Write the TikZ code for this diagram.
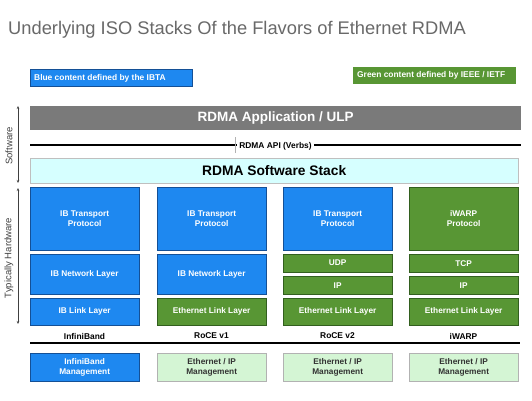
\documentclass[tikz,border=0pt]{standalone}
\usepackage{fontspec}
\setmainfont{Liberation Sans}
\usetikzlibrary{arrows.meta}
\definecolor{ibblue}{RGB}{30,136,240}
\definecolor{ibblueD}{RGB}{20,80,150}
\definecolor{ietfgreen}{RGB}{88,150,52}
\definecolor{ietfgreenD}{RGB}{50,95,30}
\definecolor{mgmtgreen}{RGB}{212,245,212}
\definecolor{appgray}{RGB}{122,122,122}
\definecolor{stackcyan}{RGB}{214,255,255}
\definecolor{titlegray}{RGB}{105,105,105}
\tikzset{
  x=1pt, y=-1pt,
  layer/.style={anchor=north west, inner sep=0pt, minimum width=109pt, align=center,
    font=\bfseries\fontsize{8.3}{9.6}\selectfont, text=white},
  bluebox/.style={layer, fill=ibblue, draw=ibblueD, line width=0.3pt},
  greenbox/.style={layer, fill=ietfgreen, draw=ietfgreenD, line width=0.3pt},
  mgmtbox/.style={layer, fill=mgmtgreen, draw=gray!60, line width=0.3pt, text=black!80},
  flavor/.style={font=\bfseries\fontsize{8.4}{9}\selectfont, text=black},
  legtext/.style={anchor=west, text=white, font=\bfseries\fontsize{8.4}{9}\selectfont, inner sep=0pt},
  sidearrow/.style={{Stealth[length=3pt,width=2.5pt]}-{Stealth[length=3pt,width=2.5pt]}, draw=black!75, line width=0.6pt},
  sidelabel/.style={rotate=90, font=\fontsize{9.5}{10}\selectfont, text=black!75},
}
\begin{document}
\begin{tikzpicture}
\useasboundingbox[fill=white] (0,0) rectangle (532,401);
% title
\node[anchor=base west, inner sep=0pt, text=titlegray, font=\fontsize{18.3}{20}\selectfont] (title) at (8,34.5) {Underlying ISO Stacks Of the Flavors of Ethernet RDMA};
% legends
\node[anchor=north west, inner sep=0pt, fill=ibblue, draw=ibblueD, line width=0.3pt, minimum width=162pt, minimum height=17pt] (legb) at (30,69) {};
\node[legtext] (legbt) at (34,78) {Blue content defined by the IBTA};
\node[anchor=north west, inner sep=0pt, fill=ietfgreen, minimum width=163pt, minimum height=17pt] (legg) at (353,67) {};
\node[legtext] (leggt) at (357,75.5) {Green content defined by IEEE / IETF};
% application bar
\node[anchor=north west, inner sep=0pt, fill=appgray, minimum width=491pt, minimum height=24pt, text=white, font=\bfseries\fontsize{13.5}{15}\selectfont] (app) at (30,106) {RDMA Application / ULP};
% API line
\coordinate (apiL) at (30,145);
\coordinate (apiR) at (521,145);
\draw[line width=1.3pt, black] (apiL) -- (apiR);
\node[fill=white, inner sep=2pt, font=\bfseries\fontsize{8.4}{9}\selectfont] (api) at (275.5,146) {RDMA API (Verbs)};
\coordinate (tickT) at (235,137);
\coordinate (tickB) at (235,153);
\draw[gray!60, line width=0.5pt] (tickT) -- (tickB);
% software stack
\node[anchor=north west, inner sep=0pt, fill=stackcyan, draw=gray!50, line width=0.4pt, minimum width=488pt, minimum height=25pt, text=black, font=\bfseries\fontsize{13.8}{15}\selectfont] (stack) at (30,158) {RDMA Software Stack};
% side arrows
\coordinate (swT) at (18,106);
\coordinate (swB) at (18,183);
\draw[sidearrow] (swT) -- (swB);
\node[sidelabel] (swl) at (9,146) {Software};
\coordinate (hwT) at (18,188);
\coordinate (hwB) at (18,324);
\draw[sidearrow] (hwT) -- (hwB);
\node[sidelabel] (hwl) at (9,258) {Typically Hardware};
% column 1: InfiniBand
\node[bluebox, minimum height=63pt] (ibt1) at (30,187) {IB Transport\\Protocol};
\node[bluebox, minimum height=40pt] (ibn1) at (30,254) {IB Network Layer};
\node[bluebox, minimum height=27pt] (ibl1) at (30,298) {IB Link Layer};
\node[flavor] (f1) at (84.5,336) {InfiniBand};
\node[bluebox, minimum height=28pt] (m1) at (30,353) {InfiniBand\\Management};
% column 2: RoCE v1
\node[bluebox, minimum height=63pt] (ibt2) at (157,187) {IB Transport\\Protocol};
\node[bluebox, minimum height=40pt] (ibn2) at (157,254) {IB Network Layer};
\node[greenbox, minimum height=27pt] (el2) at (157,298) {Ethernet Link Layer};
\node[flavor] (f2) at (211.5,336) {RoCE v1};
\node[mgmtbox, minimum height=28pt] (m2) at (157,353) {Ethernet / IP\\Management};
% column 3: RoCE v2
\node[bluebox, minimum height=63pt] (ibt3) at (283,187) {IB Transport\\Protocol};
\node[greenbox, minimum height=18pt] (udp3) at (283,254) {UDP};
\node[greenbox, minimum height=18pt] (ip3) at (283,276) {IP};
\node[greenbox, minimum height=27pt] (el3) at (283,298) {Ethernet Link Layer};
\node[flavor] (f3) at (337.5,336) {RoCE v2};
\node[mgmtbox, minimum height=28pt] (m3) at (283,353) {Ethernet / IP\\Management};
% column 4: iWARP
\node[greenbox, minimum height=63pt] (iw4) at (409,187) {iWARP\\Protocol};
\node[greenbox, minimum height=18pt] (tcp4) at (409,254) {TCP};
\node[greenbox, minimum height=18pt] (ip4) at (409,276) {IP};
\node[greenbox, minimum height=27pt] (el4) at (409,298) {Ethernet Link Layer};
\node[flavor] (f4) at (463.5,336) {iWARP};
\node[mgmtbox, minimum height=28pt] (m4) at (409,353) {Ethernet / IP\\Management};
% separator
\coordinate (sepL) at (30,343);
\coordinate (sepR) at (520,343);
\draw[line width=1.6pt, black] (sepL) -- (sepR);
\end{tikzpicture}
\end{document}
